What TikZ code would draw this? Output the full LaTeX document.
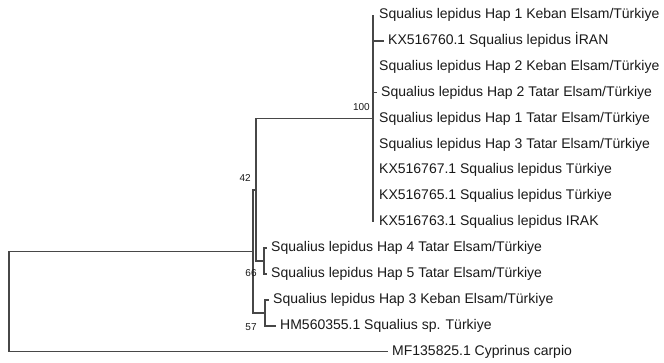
\documentclass[tikz,border=0pt]{standalone}
\usepackage{fontspec}
\setmainfont{Liberation Sans}
\usepackage{tikz}
\usetikzlibrary{positioning,calc}
\usepackage{xcolor}

\tikzset{
    branch/.style={line width=1.5pt, black!72},
    tip/.style={anchor=west, inner xsep=4pt, inner ysep=0pt, text=black!90,
        font=\fontsize{14}{16}\selectfont, text height=10pt, text depth=3pt},
    flush/.style={tip, inner xsep=6pt},
    boot/.style={text=black!90, inner sep=0pt, font=\fontsize{10}{12}\selectfont}
}

\begin{document}
\begin{tikzpicture}[x=1pt, y=-1pt]
    \useasboundingbox (0,0) rectangle (664,362);

    % Internal nodes
    \coordinate (root) at (9,301.5);
    \coordinate (nI)   at (253,251.3);
    \coordinate (n42)  at (256,189.8);
    \coordinate (n100) at (373,118.6);
    \coordinate (n66)  at (264,261.05);
    \coordinate (n57)  at (265,312.85);

    % Tips of the 100 clade
    \node[flush] (t1)  at (373,15.0)  {Squalius lepidus Hap 1 Keban Elsam/Türkiye};
    \node[tip]   (t2)  at (384,40.9)  {KX516760.1 Squalius lepidus İRAN};
    \node[flush] (t3)  at (373,66.8)  {Squalius lepidus Hap 2 Keban Elsam/Türkiye};
    \node[tip]   (t4)  at (377,92.7)  {Squalius lepidus Hap 2 Tatar Elsam/Türkiye};
    \node[flush] (t5)  at (373,118.6) {Squalius lepidus Hap 1 Tatar Elsam/Türkiye};
    \node[flush] (t6)  at (373,144.5) {Squalius lepidus Hap 3 Tatar Elsam/Türkiye};
    \node[flush] (t7)  at (373,170.4) {KX516767.1 Squalius lepidus Türkiye};
    \node[flush] (t8)  at (373,196.3) {KX516765.1 Squalius lepidus Türkiye};
    \node[flush] (t9)  at (373,222.2) {KX516763.1 Squalius lepidus IRAK};

    % Remaining tips
    \node[tip] (t10) at (267,248.1) {Squalius lepidus Hap 4 Tatar Elsam/Türkiye};
    \node[tip] (t11) at (267,274.0) {Squalius lepidus Hap 5 Tatar Elsam/Türkiye};
    \node[tip] (t12) at (269,299.9) {Squalius lepidus Hap 3 Keban Elsam/Türkiye};
    \node[tip] (t13) at (276,325.8) {HM560355.1 Squalius sp. Türkiye};
    \node[tip] (out) at (388,351.7) {MF135825.1 Cyprinus carpio};

    % Branches
    \draw[branch] (root) |- (nI);
    \draw[branch] (root) |- (out.west);
    \draw[branch] (nI) |- (n42);
    \draw[branch] (nI) |- (n57);
    \draw[branch] (n42) |- (n100);
    \draw[branch] (n42) |- (n66);
    \foreach \t in {t1,t2,t3,t4,t5,t6,t7,t8,t9}
        \draw[branch] (n100) |- (\t.west);
    \draw[branch] (n66) |- (t10.west);
    \draw[branch] (n66) |- (t11.west);
    \draw[branch] (n57) |- (t12.west);
    \draw[branch] (n57) |- (t13.west);

    % Bootstrap values
    \node[boot, anchor=east] (b100) at (370,107) {100};
    \node[boot, anchor=east] (b42)  at (251,178) {42};
    \node[boot] (b66) at (251,273) {66};
    \node[boot] (b57) at (251,327) {57};
\end{tikzpicture}
\end{document}
